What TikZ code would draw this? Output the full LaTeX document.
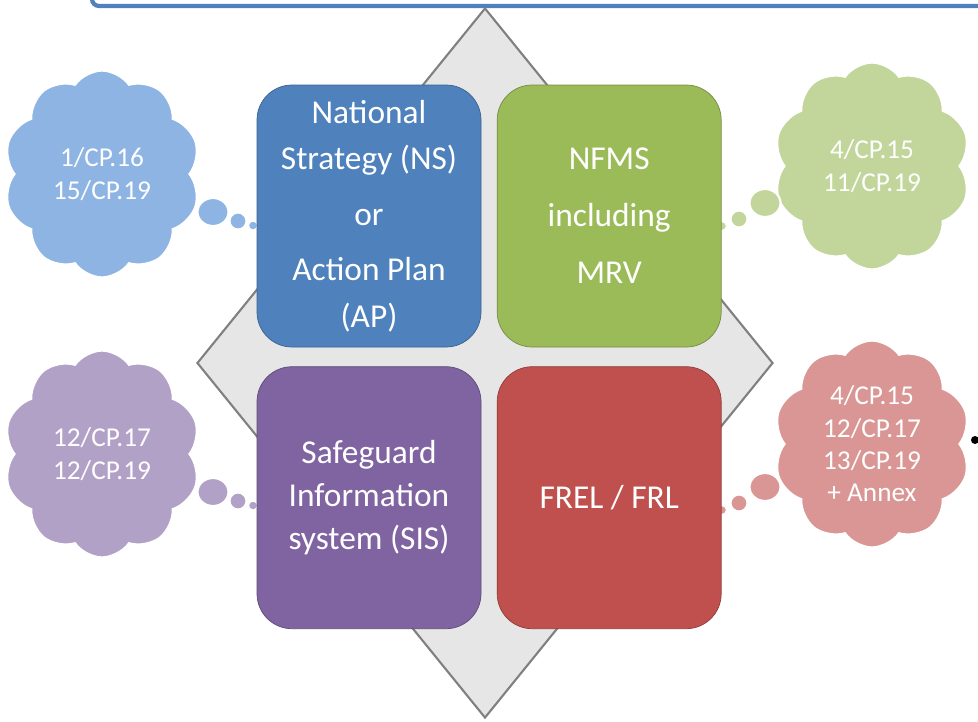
\documentclass[tikz,border=0pt]{standalone}
\usepackage{fontspec}
\setmainfont{Carlito}
\usepackage{tikz}
\usetikzlibrary{shapes.symbols,shapes.geometric,positioning}
\definecolor{frameblue}{RGB}{79,129,189}
\definecolor{nsblue}{RGB}{79,129,189}
\definecolor{nfgreen}{RGB}{155,187,89}
\definecolor{sispurple}{RGB}{128,100,162}
\definecolor{frelred}{RGB}{192,80,77}
\definecolor{cloudblue}{RGB}{141,180,226}
\definecolor{cloudgreen}{RGB}{194,214,155}
\definecolor{cloudpurple}{RGB}{178,161,199}
\definecolor{cloudred}{RGB}{217,150,148}
\definecolor{diamondgray}{RGB}{230,230,230}

\begin{document}
\begin{tikzpicture}[
    pillar/.style  = {rectangle, rounded corners=0.7cm, minimum width=4.48cm,
                      minimum height=5.24cm, align=center, inner sep=0pt,
                      font=\fontsize{19}{26.5}\selectfont\color{white}},
    thought/.style = {cloud, cloud puffs=10, cloud puff arc=110, cloud ignores aspect,
                      draw=white, line width=1.6pt, minimum width=3.95cm,
                      minimum height=4.15cm, inner sep=0pt, align=center,
                      font=\fontsize{15.5}{18.4}\selectfont\color{white}},
    bubble/.style  = {draw=white, line width=1.2pt},
    node distance  = 0.38cm and 0.31cm
  ]
    \clip (0,0) rectangle (19.56,-14.42);

    % header frame and the grey diamond behind the four pillars
    \draw[frameblue, line width=2.4pt, rounded corners=4pt] (1.84,1) |- (20,-0.12);
    \node[diamond, draw=gray, line width=1.2pt, fill=diamondgray, inner sep=0pt,
          minimum width=11.52cm, minimum height=14.2cm] (dia) at (9.70,-7.26) {};

    % thought clouds with their trailing bubbles
    \node[thought, fill=cloudblue]   (cns)   at (2.04,-3.48)  {1/CP.16\\15/CP.19};
    \node[thought, fill=cloudgreen]  (cnf)   at (17.44,-3.32) {4/CP.15\\11/CP.19};
    \node[thought, fill=cloudpurple] (csis)  at (2.04,-9.08)  {12/CP.17\\12/CP.19};
    \node[thought, fill=cloudred]    (cfrel) at (17.44,-8.88) {4/CP.15\\12/CP.17\\13/CP.19\\+ Annex};

    \foreach \cx/\cy/\col in {4.26/-4.24/cloudblue, 4.26/-9.84/cloudpurple}{
      \draw[bubble, fill=\col] (\cx,\cy) ellipse (0.31 and 0.28);
      \draw[bubble, fill=\col] (\cx+0.50,\cy-0.18) circle (0.17);
      \draw[bubble, fill=\col] (\cx+0.80,\cy-0.27) circle (0.10);
    }
    \foreach \cx/\cy/\col in {15.30/-4.06/cloudgreen, 15.30/-9.74/cloudred}{
      \draw[bubble, fill=\col] (\cx,\cy) ellipse (0.31 and 0.28);
      \draw[bubble, fill=\col] (\cx-0.52,\cy-0.32) circle (0.17);
      \draw[bubble, fill=\col] (\cx-0.86,\cy-0.46) circle (0.10);
    }

    % the four pillars
    \node[pillar, fill=nsblue, draw=nsblue!75!black] (ns) at (7.38,-4.32)
      {National\\Strategy (NS)\\[5pt] or\\[5pt] Action Plan\\(AP)};
    \node[pillar, fill=nfgreen, draw=nfgreen!75!black, right=of ns,
          font=\fontsize{19}{32.5}\selectfont\color{white}] (nfms)
      {NFMS\\including\\MRV};
    \node[pillar, fill=sispurple, draw=sispurple!75!black, below=of ns,
          font=\fontsize{19}{24.5}\selectfont\color{white}] (sis)
      {Safeguard\\Information\\system (SIS)};
    \node[pillar, fill=frelred, draw=frelred!75!black, below=of nfms] (frel)
      {FREL / FRL};

    \fill (19.50,-8.80) circle (0.08);
  \end{tikzpicture}
\end{document}
